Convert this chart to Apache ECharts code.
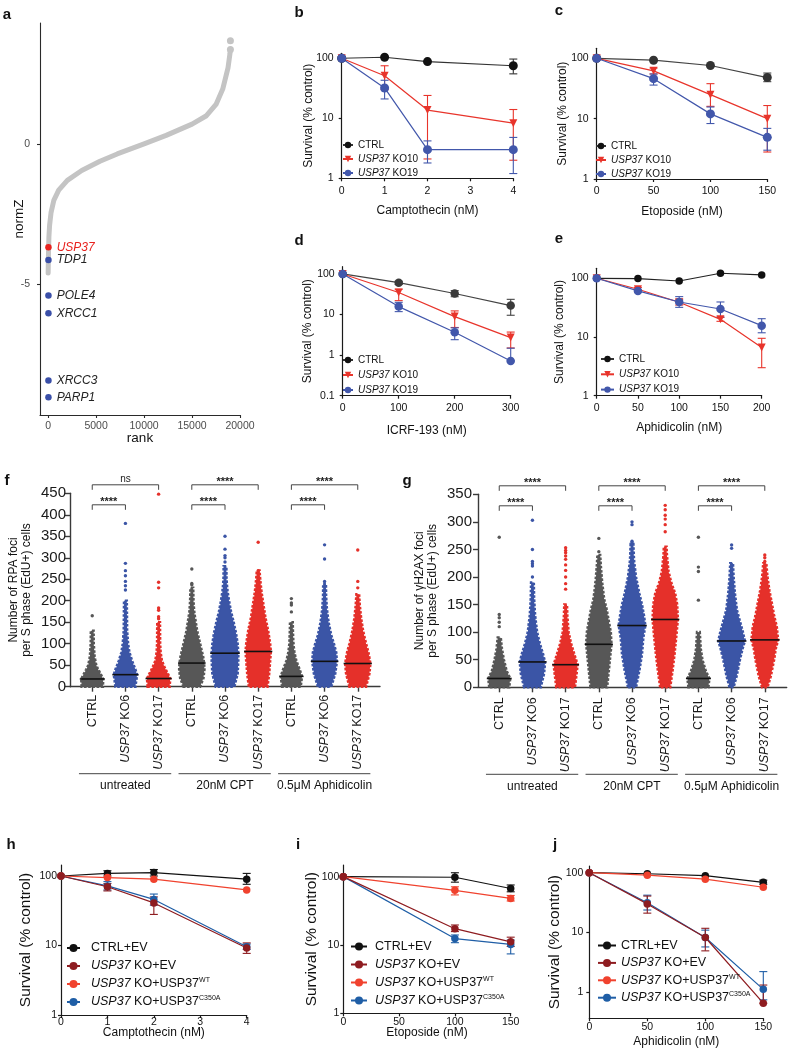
<!DOCTYPE html>
<html>
<head>
<meta charset="utf-8">
<script src="https://cdn.jsdelivr.net/npm/echarts@6/dist/echarts.min.js"></script>
<style>
html, body { margin: 0; padding: 0; background: #fff; }
#main { width: 789px; height: 1049px; }
</style>
</head>
<body>
<div id="main"></div>
<script>
var FONT = 'Liberation Sans';

// ---------- a: screen (rank vs normZ) ----------
var screenCurve = [[0, -4.6], [15, -4.3], [40, -3.8], [80, -3.3], [150, -2.9], [300, -2.45], [600, -2.0],
  [1100, -1.65], [2000, -1.3], [3500, -0.95], [5400, -0.62], [7200, -0.36], [10000, 0], [12300, 0.3],
  [15000, 0.7], [16500, 1.0], [17500, 1.4], [18200, 1.95], [18750, 2.7], [18950, 3.2], [19000, 3.36]];
var screenTop = [[19000, 3.36], [19000, 3.67]];
var hitGenes = ['USP37', 'TDP1', 'POLE4', 'XRCC1', 'XRCC3', 'PARP1'];
var hitRank = [30, 30, 30, 30, 30, 30];
var hitZ = [-3.68, -4.13, -5.4, -6.03, -8.42, -9.02];

// ---------- b-e: survival of KO clones ----------
var cptDose = [0, 1, 2, 4];
var cptCTRL = [100, 104, 88, 75];
var cptCTRLErr = [null, null, null, [55, 97]];
var cptKO10 = [100, 51, 13.7, 8.3];
var cptKO10Err = [null, [30, 75], [2.1, 24], [2, 14]];
var cptKO19 = [100, 32, 3.0, 3.0];
var cptKO19Err = [null, [21, 43], [1.8, 4.2], [1.2, 4.8]];

var etoDose = [0, 50, 100, 150];
var etoCTRL = [100, 93, 76, 48];
var etoCTRLErr = [null, null, null, [41, 57]];
var etoKO10 = [100, 62, 25, 10];
var etoKO10Err = [null, [55, 69], [16, 38], [2.8, 16.5]];
var etoKO19 = [100, 46, 12, 4.9];
var etoKO19Err = [null, [36, 55], [8.3, 15.6], [3, 6.9]];

var icrfDose = [0, 100, 200, 300];
var icrfCTRL = [100, 61, 33, 16.6];
var icrfCTRLErr = [null, [55, 66], [27.5, 38.8], [9.6, 23.7]];
var icrfKO10 = [100, 35, 8.9, 2.7];
var icrfKO10Err = [null, [22, 42], [4.8, 12.3], [1.5, 3.7]];
var icrfKO19 = [100, 15.7, 3.65, 0.72];
var icrfKO19Err = [null, [11.8, 20], [2.4, 4.7], [0.72, 1.48]];

var aphDose = [0, 50, 100, 150, 200];
var aphCTRL = [100, 99, 90, 122, 114];
var aphCTRLErr = [null, null, null, null, null];
var aphKO10 = [100, 65, 39, 20, 6.6];
var aphKO10Err = [null, [60, 70], [35, 44], [18.5, 21.5], [3.0, 9.5]];
var aphKO19 = [100, 61, 39.5, 30, 15.6];
var aphKO19Err = [null, null, [32, 48.7], [22, 39.5], [11.8, 20.5]];

// ---------- f-g: foci per S phase cell ----------
var fociLabels = ['CTRL', 'USP37 KO6', 'USP37 KO17', 'CTRL', 'USP37 KO6', 'USP37 KO17', 'CTRL', 'USP37 KO6', 'USP37 KO17'];
var treatGroups = ['untreated', '20nM CPT', '0.5μM Aphidicolin'];

var rpaSpread = [
  [[0, .32], [18, .33], [30, .25], [40, .18], [50, .12], [70, .07], [100, .045], [130, .04]],
  [[0, .30], [28, .35], [40, .30], [60, .20], [80, .12], [100, .08], [130, .05], [170, .045], [200, .04]],
  [[0, .33], [19, .35], [30, .28], [45, .18], [60, .10], [80, .06], [100, .045], [150, .04]],
  [[0, .25], [20, .35], [40, .38], [55, .37], [70, .34], [90, .28], [110, .22], [130, .16], [150, .12], [175, .07], [200, .05], [230, .04]],
  [[0, .28], [30, .38], [60, .40], [78, .40], [100, .38], [125, .33], [150, .26], [175, .18], [200, .12], [225, .07], [250, .045], [280, .04]],
  [[0, .28], [30, .33], [60, .36], [82, .38], [100, .36], [130, .30], [160, .22], [190, .16], [220, .10], [250, .06], [270, .04]],
  [[0, .28], [24, .32], [40, .25], [60, .15], [80, .09], [100, .06], [130, .045], [150, .04]],
  [[0, .20], [30, .32], [59, .37], [80, .35], [100, .28], [120, .20], [150, .12], [180, .07], [210, .045], [240, .04]],
  [[0, .25], [30, .35], [54, .38], [80, .32], [100, .25], [130, .16], [160, .10], [190, .06], [215, .04]]
];
var rpaMedian = [18, 28, 19, 55, 78, 82, 24, 59, 54];
var rpaOutliers = [[0, 165], [1, 380], [1, 287], [1, 270], [1, 258], [1, 245], [1, 235], [1, 225], [2, 448], [2, 243],
  [2, 230], [2, 183], [2, 178], [2, 163], [2, 158], [3, 274], [3, 240], [3, 237], [4, 350], [4, 320], [4, 305], [4, 300],
  [4, 290], [5, 336], [5, 270], [5, 265], [6, 205], [6, 195], [6, 190], [6, 174], [7, 330], [7, 297], [7, 245], [8, 318],
  [8, 245], [8, 230]];
var rpaPairs = [[0, 1], [0, 2], [3, 4], [3, 5], [6, 7], [6, 8]];
var rpaStars = ['****', 'ns', '****', '****', '****', '****'];

var h2axSpread = [
  [[0, .30], [16, .33], [30, .22], [50, .14], [70, .08], [90, .045]],
  [[0, .25], [25, .35], [46, .38], [60, .32], [80, .22], [100, .14], [130, .08], [160, .05], [190, .04]],
  [[0, .28], [25, .33], [41, .36], [60, .26], [80, .16], [100, .09], [130, .05], [150, .04]],
  [[0, .25], [30, .30], [60, .35], [78, .38], [100, .36], [120, .30], [140, .24], [160, .16], [190, .10], [220, .06], [240, .04]],
  [[0, .12], [30, .22], [60, .30], [90, .34], [112, .40], [130, .36], [150, .30], [170, .22], [200, .12], [230, .06], [260, .04]],
  [[0, .15], [30, .22], [60, .28], [90, .33], [123, .38], [150, .36], [170, .30], [190, .18], [210, .10], [240, .05], [255, .04]],
  [[0, .30], [16, .33], [30, .22], [50, .12], [70, .07], [100, .04]],
  [[0, .06], [20, .15], [50, .25], [70, .33], [84, .40], [100, .34], [120, .25], [140, .16], [170, .10], [200, .06], [225, .04]],
  [[0, .08], [20, .18], [50, .28], [70, .33], [86, .40], [110, .36], [130, .28], [150, .22], [175, .14], [200, .08], [225, .045]]
];
var h2axMedian = [16, 46, 41, 78, 112, 123, 16, 84, 86];
var h2axOutliers = [[0, 272], [0, 132], [0, 126], [0, 118], [0, 110], [1, 303], [1, 250], [1, 228], [1, 224], [1, 220],
  [1, 200], [2, 253], [2, 248], [2, 244], [2, 238], [2, 232], [2, 222], [2, 212], [2, 200], [2, 188], [2, 178], [3, 270],
  [3, 246], [3, 226], [4, 300], [4, 295], [4, 265], [4, 262], [5, 330], [5, 322], [5, 312], [5, 305], [5, 295], [5, 282],
  [6, 272], [6, 218], [6, 210], [6, 158], [7, 258], [7, 252], [7, 222], [7, 218], [8, 240], [8, 235], [8, 228], [8, 205]];
var h2axPairs = [[0, 1], [0, 2], [3, 4], [3, 5], [6, 7], [6, 8]];
var h2axStars = ['****', '****', '****', '****', '****', '****'];

// ---------- h-j: rescue ----------
var rCptDose = [0, 1, 2, 4];
var rCptCtrlEV = [100, 109, 112, 90];
var rCptCtrlEVErr = [null, [100, 119], [100, 124], [76, 109]];
var rCptKoEV = [100, 70, 41, 9.2];
var rCptKoEVErr = [null, [61, 78], [28, 50], [7.7, 10.9]];
var rCptKoWT = [100, 95, 90, 63];
var rCptKoWTErr = [null, null, null, null];
var rCptKoCA = [100, 72, 46, 9.6];
var rCptKoCAErr = [null, [63, 83], [38, 55], [8.8, 10.5]];

var rEtoDose = [0, 100, 150];
var rEtoCtrlEV = [100, 98, 67];
var rEtoCtrlEVErr = [null, [83, 114], [60, 75.5]];
var rEtoKoEV = [100, 17.3, 11.1];
var rEtoKoEVErr = [null, [15.7, 19.6], [9.5, 13]];
var rEtoKoWT = [100, 63, 48];
var rEtoKoWTErr = [null, [54, 71], [44, 53]];
var rEtoKoCA = [100, 12.4, 10.2];
var rEtoKoCAErr = [null, [10.8, 14], [7.4, 11.8]];

var rAphDose = [0, 50, 100, 150];
var rAphCtrlEV = [100, 96, 89, 69];
var rAphCtrlEVErr = [null, null, null, [64, 75]];
var rAphKoEV = [100, 30, 8.2, 0.65];
var rAphKoEVErr = [null, [21, 40.6], [4.9, 11.7], [0.65, 1.31]];
var rAphKoWT = [100, 91, 78, 57];
var rAphKoWTErr = [null, null, null, null];
var rAphKoCA = [100, 31.4, 8.2, 1.11];
var rAphKoCAErr = [null, [23.7, 42], [5.7, 10.9], [0.74, 2.2]];

var koNames = ['CTRL', 'USP37 KO10', 'USP37 KO19'];
var rescueNames = ['CTRL+EV', 'USP37 KO+EV', 'USP37 KO+USP37 WT', 'USP37 KO+USP37 C350A'];

// ---------------------------------------------------------------
var myChart = echarts.init(document.getElementById('main'));

var option = {
    animation: false,
    backgroundColor: '#fff',
    textStyle: { fontFamily: FONT },
    grid: [], xAxis: [], yAxis: [], series: [], legend: [], graphic: []
};

function richName(n) {
    return n.replace('USP37 KO', '{i|USP37} KO').replace(' WT', '{s|WT}').replace(' C350A', '{s|C350A}');
}
function fmtLog(v) { return String(+(+v).toPrecision(3)); }
function fmtPlain(v) { return String(v); }

function addAxes(box, x, y, st) {
    var k = option.grid.length;
    option.grid.push({ left: box[0], top: box[1], width: box[2], height: box[3] });
    var line = { show: true, onZero: false, lineStyle: { color: st.axis, width: st.lw } };
    option.xAxis.push({
        gridIndex: k, type: 'value', min: x.min, max: x.max,
        name: x.name, nameLocation: 'middle', nameGap: x.gap, nameMoveOverlap: false,
        nameTextStyle: { fontSize: x.nameSize, color: '#111', fontFamily: FONT, fontWeight: 'normal', fontStyle: 'normal' },
        axisLine: line,
        axisTick: { show: true, length: st.tick, customValues: x.ticks, lineStyle: { color: st.axis, width: st.lw } },
        axisLabel: { customValues: x.ticks, fontSize: x.labelSize || st.label, color: st.labelColor, margin: x.margin,
            formatter: x.fmt || fmtPlain, rotate: x.rotate || 0, rich: x.rich, fontFamily: FONT },
        splitLine: { show: false }
    });
    option.yAxis.push({
        gridIndex: k, type: y.type, logBase: 10, min: y.min, max: y.max,
        name: y.name, nameLocation: 'middle', nameGap: y.gap, nameMoveOverlap: false,
        nameTextStyle: { fontSize: y.nameSize, color: '#111', lineHeight: y.nameLH, fontFamily: FONT, fontWeight: 'normal', fontStyle: 'normal' },
        axisLine: line,
        axisTick: { show: true, length: st.tick, customValues: y.ticks, lineStyle: { color: st.axis, width: st.lw } },
        axisLabel: { customValues: y.ticks, fontSize: y.labelSize || st.label, color: st.labelColor, margin: y.margin,
            formatter: y.type === 'log' ? fmtLog : fmtPlain, fontFamily: FONT },
        splitLine: { show: false }
    });
    return k;
}

function errSeries(k, dose, errs, color) {
    var data = [];
    dose.forEach(function (d, i) { if (errs[i]) data.push([d, errs[i][0], errs[i][1]]); });
    return {
        type: 'custom', name: '_err', xAxisIndex: k, yAxisIndex: k, data: data, silent: true, z: 2,
        encode: { x: 0, y: [1, 2] },
        renderItem: function (params, api) {
            var lo = api.coord([api.value(0), api.value(1)]);
            var hi = api.coord([api.value(0), api.value(2)]);
            var w = 4;
            var st = { stroke: color, lineWidth: 1.1 };
            return { type: 'group', children: [
                { type: 'line', shape: { x1: lo[0], y1: lo[1], x2: hi[0], y2: hi[1] }, style: st },
                { type: 'line', shape: { x1: lo[0] - w, y1: lo[1], x2: lo[0] + w, y2: lo[1] }, style: st },
                { type: 'line', shape: { x1: hi[0] - w, y1: hi[1], x2: hi[0] + w, y2: hi[1] }, style: st }
            ] };
        }
    };
}

function addCurves(k, dose, curves) {
    curves.forEach(function (c) {
        option.series.push({
            type: 'line', name: c.name, xAxisIndex: k, yAxisIndex: k, z: 3,
            data: dose.map(function (d, i) { return [d, c.vals[i]]; }),
            symbol: c.symbol || 'circle', symbolSize: c.size, symbolRotate: c.symbol === 'triangle' ? 180 : 0,
            itemStyle: { color: c.color, opacity: 1 }, lineStyle: { color: c.line || c.color, width: 1.2 },
            clip: false, silent: true
        });
    });
    curves.forEach(function (c) { option.series.push(errSeries(k, dose, c.errs, c.line || c.color)); });
}

function legendBox(names, left, top, fs, lh, gap, iw, pad) {
    return {
        data: names, orient: 'vertical', left: left, top: top, itemGap: gap, itemWidth: iw, itemHeight: Math.round(fs * 0.8),
        selectedMode: false, padding: 0, formatter: richName,
        textStyle: { fontSize: fs, lineHeight: lh, color: '#111', fontFamily: FONT, padding: [0, 0, 0, pad],
            rich: { i: { fontStyle: 'italic', fontSize: fs, lineHeight: lh, fontFamily: FONT },
                s: { fontSize: Math.round(fs * 0.55), lineHeight: lh, verticalAlign: 'top', fontFamily: FONT } } }
    };
}

// ---------- a ----------
var stA = { axis: '#2a2a2a', lw: 1.1, tick: 3, label: 10.5, labelColor: '#4d4d4d' };
var kA = addAxes([40, 23, 200, 392],
    { min: -850, max: 20000, ticks: [0, 5000, 10000, 15000, 20000], name: 'rank', gap: 16, nameSize: 13.5, margin: 6 },
    { type: 'value', min: -9.65, max: 4.3, ticks: [-5, 0], name: 'normZ', gap: 14, nameSize: 13.5, margin: 10 }, stA);
option.series.push({
    type: 'line', xAxisIndex: kA, yAxisIndex: kA, data: screenCurve, symbol: 'none', silent: true,
    lineStyle: { color: '#c4c4c4', width: 5, cap: 'round', join: 'round' }
});
option.series.push({
    type: 'scatter', xAxisIndex: kA, yAxisIndex: kA, data: screenTop, symbolSize: 7, silent: true,
    itemStyle: { color: '#c4c4c4', opacity: 1 }
});
option.series.push({
    type: 'scatter', xAxisIndex: kA, yAxisIndex: kA, symbolSize: 6.5, silent: true, z: 5,
    data: hitGenes.map(function (g, i) {
        var red = g === 'USP37';
        return { name: g, value: [hitRank[i], hitZ[i]], itemStyle: { color: red ? '#e8231f' : '#3a4fa8', opacity: 1 },
            label: { color: red ? '#e8231f' : '#222' } };
    }),
    label: { show: true, position: 'right', distance: 5, formatter: '{b}', fontStyle: 'italic', fontSize: 12, fontFamily: FONT }
});

// ---------- b-e ----------
var stS = { axis: '#1a1a1a', lw: 1.2, tick: 3, label: 10.5, labelColor: '#111' };
var RED = '#e8342b', BLUE = '#4257ab';

var kB = addAxes([341.7, 53.3, 171.6, 125],
    { min: 0, max: 4, ticks: [0, 1, 2, 3, 4], name: 'Camptothecin (nM)', gap: 26, nameSize: 12, margin: 7 },
    { type: 'log', min: 1, max: 121, ticks: [1, 10, 100], name: 'Survival (% control)', gap: 27, nameSize: 12, margin: 8 }, stS);
addCurves(kB, cptDose, [
    { name: koNames[0], vals: cptCTRL, errs: cptCTRLErr, color: '#111', line: '#333', size: 9 },
    { name: koNames[1], vals: cptKO10, errs: cptKO10Err, color: RED, symbol: 'triangle', size: 8 },
    { name: koNames[2], vals: cptKO19, errs: cptKO19Err, color: BLUE, size: 9 }
]);
option.legend.push(legendBox(koNames, 342, 139, 10, 12, 2, 10, 0));

var kC = addAxes([596.7, 48.3, 170.6, 130.7],
    { min: 0, max: 150, ticks: [0, 50, 100, 150], name: 'Etoposide (nM)', gap: 27, nameSize: 12, margin: 7 },
    { type: 'log', min: 1, max: 146.5, ticks: [1, 10, 100], name: 'Survival (% control)', gap: 28, nameSize: 12, margin: 8 }, stS);
addCurves(kC, etoDose, [
    { name: koNames[0], vals: etoCTRL, errs: etoCTRLErr, color: '#333', line: '#444', size: 9 },
    { name: koNames[1], vals: etoKO10, errs: etoKO10Err, color: RED, symbol: 'triangle', size: 8 },
    { name: koNames[2], vals: etoKO19, errs: etoKO19Err, color: BLUE, size: 9 }
]);
option.legend.push(legendBox(koNames, 595, 140, 10, 12, 2, 10, 0));

var kD = addAxes([342.7, 266.7, 168, 129],
    { min: 0, max: 300, ticks: [0, 100, 200, 300], name: 'ICRF-193 (nM)', gap: 29, nameSize: 12, margin: 7 },
    { type: 'log', min: 0.1, max: 151, ticks: [0.1, 1, 10, 100], name: 'Survival (% control)', gap: 29, nameSize: 12, margin: 8 }, stS);
addCurves(kD, icrfDose, [
    { name: koNames[0], vals: icrfCTRL, errs: icrfCTRLErr, color: '#3a3a3a', line: '#444', size: 8.5 },
    { name: koNames[1], vals: icrfKO10, errs: icrfKO10Err, color: RED, symbol: 'triangle', size: 8 },
    { name: koNames[2], vals: icrfKO19, errs: icrfKO19Err, color: BLUE, size: 8.5 }
]);
option.legend.push(legendBox(koNames, 342, 354, 10, 12, 3, 10, 0));

var kE = addAxes([596.7, 268.3, 165, 127.4],
    { min: 0, max: 200, ticks: [0, 50, 100, 150, 200], name: 'Aphidicolin (nM)', gap: 26, nameSize: 12, margin: 7 },
    { type: 'log', min: 1, max: 148, ticks: [1, 10, 100], name: 'Survival (% control)', gap: 31, nameSize: 12, margin: 8 }, stS);
addCurves(kE, aphDose, [
    { name: koNames[0], vals: aphCTRL, errs: aphCTRLErr, color: '#111', line: '#222', size: 7.5 },
    { name: koNames[1], vals: aphKO10, errs: aphKO10Err, color: RED, symbol: 'triangle', size: 8 },
    { name: koNames[2], vals: aphKO19, errs: aphKO19Err, color: BLUE, size: 8.5 }
]);
option.legend.push(legendBox(koNames, 600, 353, 10, 12, 3.3, 13, 0));

// ---------- f, g: swarms ----------
var SWARM = ['#575757', '#3b55a6', '#e5302a'];
var stF = { axis: '#3a3a3a', lw: 1.4, tick: 5, label: 15, labelColor: '#1a1a1a' };
var catRich = { i: { fontStyle: 'italic', fontSize: 12.5, fontFamily: FONT } };
function catFmt(v) { return (fociLabels[Math.round(v)] || '').replace('USP37', '{i|USP37}'); }
var catTicks = [0, 1, 2, 3, 4, 5, 6, 7, 8];

function spreadAt(prof, v) {
    for (var i = 1; i < prof.length; i++) {
        if (v <= prof[i][0]) {
            var t = (v - prof[i - 1][0]) / (prof[i][0] - prof[i - 1][0]);
            return prof[i - 1][1] + t * (prof[i][1] - prof[i - 1][1]);
        }
    }
    return prof[prof.length - 1][1];
}

function addSwarm(k, spread, median, outliers, pairs, stars, yMax) {
    option.series.push({
        type: 'custom', xAxisIndex: k, yAxisIndex: k, silent: true, z: 2,
        data: median.map(function (m, i) { return [i, m]; }), encode: { x: 0, y: 1 },
        renderItem: function (params, api) {
            var i = params.dataIndex, prof = spread[i];
            var bw = api.size([1, 0])[0];
            var left = [], right = [];
            prof.forEach(function (p) {
                var c = api.coord([i, p[0]]);
                left.push([c[0] - p[1] * bw, c[1]]);
                right.unshift([c[0] + p[1] * bw, c[1]]);
            });
            var m = api.coord([i, median[i]]);
            var mw = spreadAt(prof, median[i]) * bw + 1.5;
            return { type: 'group', children: [
                { type: 'polygon', shape: { points: left.concat(right) },
                    style: { fill: SWARM[i % 3], stroke: SWARM[i % 3], lineWidth: 2.6, lineDash: [2.6, 1.6] } },
                { type: 'line', shape: { x1: m[0] - mw, y1: m[1], x2: m[0] + mw, y2: m[1] }, style: { stroke: '#111', lineWidth: 1.6 } }
            ] };
        }
    });
    option.series.push({
        type: 'scatter', xAxisIndex: k, yAxisIndex: k, data: outliers, symbolSize: 3.4, silent: true, z: 1,
        itemStyle: { opacity: 1, color: function (p) { return SWARM[p.value[0] % 3]; } }
    });
    // significance brackets
    option.series.push({
        type: 'custom', xAxisIndex: k, yAxisIndex: k, silent: true, z: 4,
        data: pairs.map(function (p) { return [p[0], p[1], 0]; }), encode: { x: [0, 1], y: 2 },
        renderItem: function (params, api) {
            var p = pairs[params.dataIndex];
            var top = api.coord([0, yMax])[1];
            var y = (p[1] - p[0] === 1) ? top + 11.5 : top - 8.5;
            var x0 = api.coord([p[0], 0])[0], x1 = api.coord([p[1], 0])[0];
            var s = stars[params.dataIndex];
            return { type: 'group', children: [
                { type: 'polyline', shape: { points: [[x0, y + 5], [x0, y], [x1, y], [x1, y + 5]] }, style: { stroke: '#444', lineWidth: 1, fill: null } },
                { type: 'text', style: { text: s, x: (x0 + x1) / 2, y: s === 'ns' ? y - 1 : y + 3, align: 'center', verticalAlign: 'bottom',
                    fontSize: s === 'ns' ? 10 : 11, fontWeight: s === 'ns' ? 'normal' : 'bold', fontFamily: FONT, fill: '#222' } }
            ] };
        }
    });
    // treatment groups under the axis
    option.series.push({
        type: 'custom', xAxisIndex: k, yAxisIndex: k, silent: true,
        data: treatGroups.map(function (g, i) { return [3 * i, 0]; }), encode: { x: 0, y: 1 },
        renderItem: function (params, api) {
            var g = params.dataIndex;
            var a = api.coord([3 * g, 0]), b = api.coord([3 * g + 2, 0]);
            var bw = api.size([1, 0])[0];
            var y = a[1] + 87;
            return { type: 'group', children: [
                { type: 'line', shape: { x1: a[0] - 0.4 * bw, y1: y, x2: b[0] + 0.38 * bw, y2: y }, style: { stroke: '#444', lineWidth: 1 } },
                { type: 'text', style: { text: treatGroups[g], x: (a[0] + b[0]) / 2, y: y + 12, align: 'center', verticalAlign: 'middle',
                    fontSize: 12, fontFamily: FONT, fill: '#111' } }
            ] };
        }
    });
}

var kF = addAxes([70, 493.3, 310, 193.4],
    { min: -0.67, max: 8.67, ticks: catTicks, margin: 8, rotate: 90, fmt: catFmt, rich: catRich, labelSize: 12.5 },
    { type: 'value', min: 0, max: 450, ticks: [0, 50, 100, 150, 200, 250, 300, 350, 400, 450],
        name: 'Number of RPA foci\nper S phase (EdU+) cells', gap: 37, nameSize: 12, nameLH: 13, margin: 4 }, stF);
addSwarm(kF, rpaSpread, rpaMedian, rpaOutliers, rpaPairs, rpaStars, 450);

var kG = addAxes([478, 494.3, 308.7, 193],
    { min: -0.64, max: 8.66, ticks: catTicks, margin: 10, rotate: 90, fmt: catFmt, rich: catRich, labelSize: 12.5 },
    { type: 'value', min: 0, max: 350, ticks: [0, 50, 100, 150, 200, 250, 300, 350],
        name: 'Number of γH2AX foci\nper S phase (EdU+) cells', gap: 39, nameSize: 12, nameLH: 13, margin: 6 }, stF);
addSwarm(kG, h2axSpread, h2axMedian, h2axOutliers, h2axPairs, h2axStars, 350);

// ---------- h-j: rescue ----------
var stR = { axis: '#1a1a1a', lw: 1.2, tick: 3, label: 10.5, labelColor: '#111' };
var C_CTRL = '#111', C_EV = '#8e1c20', C_WT = '#f0422e', C_CA = '#1f5ea6';

var kH = addAxes([61, 865, 185.7, 150],
    { min: 0, max: 4, ticks: [0, 1, 2, 3, 4], name: 'Camptothecin (nM)', gap: 12, nameSize: 12, margin: 2 },
    { type: 'log', min: 1, max: 144, ticks: [1, 10, 100], name: 'Survival (% control)', gap: 27, nameSize: 15.5, margin: 4 }, stR);
addCurves(kH, rCptDose, [
    { name: rescueNames[0], vals: rCptCtrlEV, errs: rCptCtrlEVErr, color: C_CTRL, size: 7.5 },
    { name: rescueNames[3], vals: rCptKoCA, errs: rCptKoCAErr, color: C_CA, size: 7.5 },
    { name: rescueNames[2], vals: rCptKoWT, errs: rCptKoWTErr, color: C_WT, size: 7.5 },
    { name: rescueNames[1], vals: rCptKoEV, errs: rCptKoEVErr, color: C_EV, size: 7.5 }
]);
option.legend.push(legendBox(rescueNames, 66, 941, 12.5, 14, 4, 13, 6));

var kI = addAxes([343.3, 865, 167.4, 148.3],
    { min: 0, max: 150, ticks: [0, 50, 100, 150], name: 'Etoposide (nM)', gap: 13.5, nameSize: 12, margin: 3 },
    { type: 'log', min: 1, max: 148, ticks: [1, 10, 100], name: 'Survival (% control)', gap: 24, nameSize: 15.5, margin: 4 }, stR);
addCurves(kI, rEtoDose, [
    { name: rescueNames[0], vals: rEtoCtrlEV, errs: rEtoCtrlEVErr, color: C_CTRL, size: 7.5 },
    { name: rescueNames[3], vals: rEtoKoCA, errs: rEtoKoCAErr, color: C_CA, size: 7.5 },
    { name: rescueNames[2], vals: rEtoKoWT, errs: rEtoKoWTErr, color: C_WT, size: 7.5 },
    { name: rescueNames[1], vals: rEtoKoEV, errs: rEtoKoEVErr, color: C_EV, size: 7.5 }
]);
option.legend.push(legendBox(rescueNames, 350, 939.5, 12.5, 14, 4, 16, 3));

var kJ = addAxes([589.3, 866, 174, 152.3],
    { min: 0, max: 150, ticks: [0, 50, 100, 150], name: 'Aphidicolin (nM)', gap: 17, nameSize: 12, margin: 3 },
    { type: 'log', min: 0.363, max: 129.5, ticks: [1, 10, 100], name: 'Survival (% control)', gap: 27, nameSize: 15.5, margin: 6 }, stR);
addCurves(kJ, rAphDose, [
    { name: rescueNames[0], vals: rAphCtrlEV, errs: rAphCtrlEVErr, color: C_CTRL, size: 7.5 },
    { name: rescueNames[3], vals: rAphKoCA, errs: rAphKoCAErr, color: C_CA, size: 7.5 },
    { name: rescueNames[2], vals: rAphKoWT, errs: rAphKoWTErr, color: C_WT, size: 7.5 },
    { name: rescueNames[1], vals: rAphKoEV, errs: rAphKoEVErr, color: C_EV, size: 7.5 }
]);
option.legend.push(legendBox(rescueNames, 597, 938.5, 12.5, 14, 3.4, 18, 0));

// panel letters
[['a', 7, 15], ['b', 299, 13], ['c', 559, 11], ['d', 299, 241], ['e', 559, 239], ['f', 7, 481],
 ['g', 407, 481], ['h', 11, 845], ['i', 298, 845], ['j', 555, 845]].forEach(function (p) {
    option.graphic.push({ type: 'text', x: p[1], y: p[2], style: { text: p[0], fontSize: 15, fontWeight: 'bold',
        fontFamily: FONT, fill: '#111', align: 'center', verticalAlign: 'middle' } });
});

myChart.setOption(option);
</script>
</body>
</html>
